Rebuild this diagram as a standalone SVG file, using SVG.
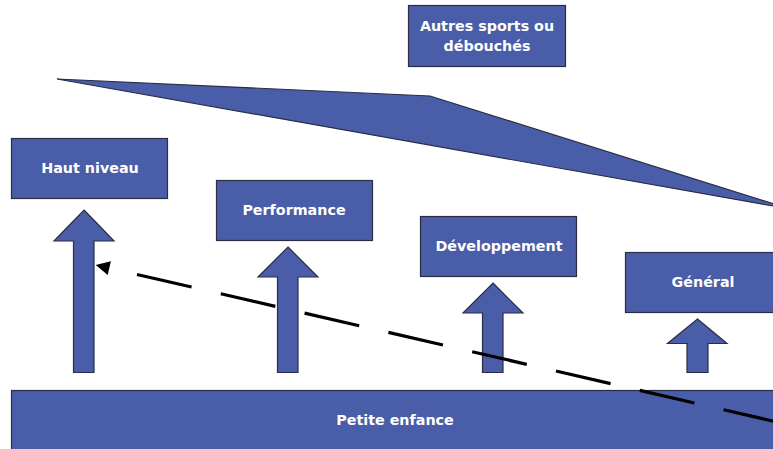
<svg xmlns="http://www.w3.org/2000/svg" width="773" height="449" viewBox="0 0 773 449">
  <style>
    .shape { fill: #4A5DA8; stroke: #2A2E45; stroke-width: 1.2; }
    .label { fill: #FFFFFF; font-family: "DejaVu Sans", "Liberation Sans", sans-serif; font-weight: bold; font-size: 14.3px; text-anchor: middle; dominant-baseline: central; }
    .dash { fill: none; stroke: #000000; stroke-width: 3.2; stroke-dasharray: 56 30; stroke-dashoffset: 57.6; }
  </style>
  <rect width="773" height="449" fill="#FFFFFF"/>

  <g id="wedge">
    <polygon class="shape" points="57,79 430,96 790,209"/>
  </g>

  <g id="autres">
    <rect class="shape" x="408.5" y="5.5" width="157" height="61"/>
    <text class="label" x="487" y="26">Autres sports ou</text>
    <text class="label" x="487" y="46">débouchés</text>
  </g>

  <g id="haut-niveau">
    <rect class="shape" x="11.5" y="138.5" width="156" height="60"/>
    <text class="label" x="90" y="168">Haut niveau</text>
  </g>

  <g id="performance">
    <rect class="shape" x="216.5" y="180.5" width="156" height="60"/>
    <text class="label" x="294" y="210">Performance</text>
  </g>

  <g id="developpement">
    <rect class="shape" x="420.5" y="216.5" width="156" height="60"/>
    <text class="label" x="499" y="246">Développement</text>
  </g>

  <g id="general">
    <rect class="shape" x="625.5" y="252.5" width="156" height="60"/>
    <text class="label" x="703" y="282">Général</text>
  </g>

  <g id="petite-enfance">
    <rect class="shape" x="11.5" y="390.5" width="770" height="70"/>
    <text class="label" x="395" y="420">Petite enfance</text>
  </g>

  <g id="arrow-haut-niveau">
    <polygon class="shape" points="84,210 114,241 94,241 94,372.5 73.5,372.5 73.5,241 54,241"/>
  </g>
  <g id="arrow-performance">
    <polygon class="shape" points="288,247 318,277 298,277 298,372.5 277.5,372.5 277.5,277 258,277"/>
  </g>
  <g id="arrow-developpement">
    <polygon class="shape" points="493,283 523,313 503,313 503,372.5 482.5,372.5 482.5,313 463,313"/>
  </g>
  <g id="arrow-general">
    <polygon class="shape" points="697.5,319 727,343.5 708,343.5 708,372.5 687,372.5 687,343.5 667.5,343.5"/>
  </g>

  <g id="connectors">
    <path class="dash" d="M 109.3,268.1 L 800,427.3"/>
    <polygon points="95.7,265 107.7,274.9 110.9,261.3" fill="#000000"/>
  </g>
</svg>
